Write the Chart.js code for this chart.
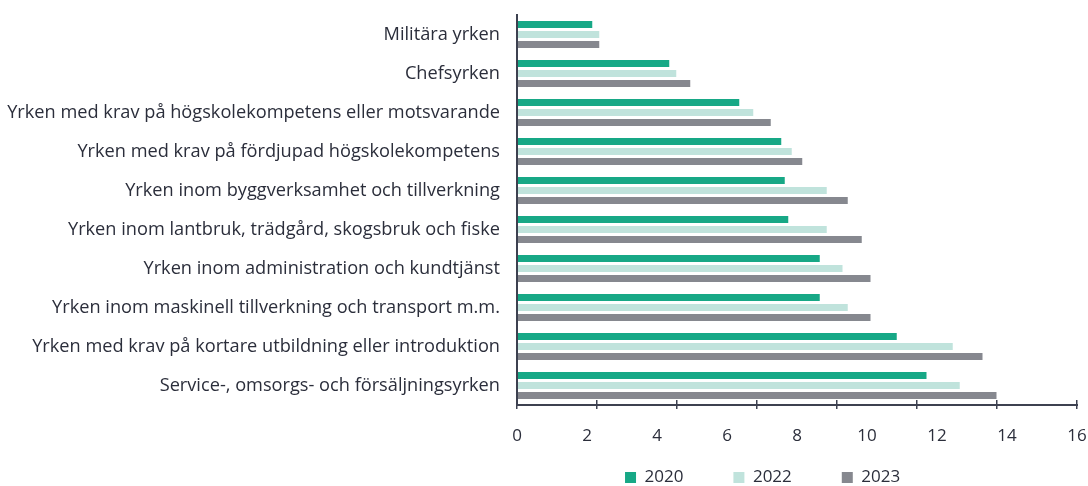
<!DOCTYPE html>
<html>
<head>
<meta charset="utf-8">
<script src="https://cdn.jsdelivr.net/npm/chart.js@4/dist/chart.umd.min.js"></script>
<style>
  html, body { margin: 0; padding: 0; background: #ffffff; }
  #wrap { width: 1088px; height: 486px; position: relative; }
</style>
</head>
<body>
<div id="wrap"><canvas id="c"></canvas></div>
<script>
const categories = [
  "Militära yrken",
  "Chefsyrken",
  "Yrken med krav på högskolekompetens eller motsvarande",
  "Yrken med krav på fördjupad högskolekompetens",
  "Yrken inom byggverksamhet och tillverkning",
  "Yrken inom lantbruk, trädgård, skogsbruk och fiske",
  "Yrken inom administration och kundtjänst",
  "Yrken inom maskinell tillverkning och transport m.m.",
  "Yrken med krav på kortare utbildning eller introduktion",
  "Service-, omsorgs- och försäljningsyrken"
];
const seriesNames = ["2020", "2022", "2023"];
const values2020 = [2.15, 4.35, 6.35, 7.55, 7.65, 7.75, 8.65, 8.65, 10.85, 11.7];
const values2022 = [2.35, 4.55, 6.75, 7.85, 8.85, 8.85, 9.3, 9.45, 12.45, 12.65];
const values2023 = [2.35, 4.95, 7.25, 8.15, 9.45, 9.85, 10.1, 10.1, 13.3, 13.7];
const xTickLabels = [0, 2, 4, 6, 8, 10, 12, 14, 16];
const xTickMarks = [0, 2, 4, 6, 8, 10, 12, 14];

const colors = ["#17a886", "#c0e3dc", "#86888f"];
const axisColor = "#3d4150";
const textColor = "#2b2e3b";
const FONT = "'Open Sans', sans-serif";

const noPad = (s) => { s.paddingLeft = 0; s.paddingRight = 0; s.paddingTop = 0; s.paddingBottom = 0; };

const chart = new Chart(document.getElementById('c'), {
  type: 'bar',
  data: {
    labels: categories,
    datasets: [
      { label: seriesNames[0], data: values2020, backgroundColor: colors[0], xAxisID: 'x', yAxisID: 'y' },
      { label: seriesNames[1], data: values2022, backgroundColor: colors[1], xAxisID: 'x', yAxisID: 'y' },
      { label: seriesNames[2], data: values2023, backgroundColor: colors[2], xAxisID: 'x', yAxisID: 'y' }
    ]
  },
  options: {
    indexAxis: 'y',
    responsive: true,
    maintainAspectRatio: false,
    animation: false,
    datasets: { bar: { categoryPercentage: 0.77, barPercentage: 0.7, borderWidth: 0 } },
    layout: { padding: { top: 15, left: 448.2, right: 11, bottom: -10 } },
    plugins: {
      tooltip: { enabled: false },
      legend: {
        position: 'bottom',
        align: 'center',
        title: { display: true, text: '', font: { size: 10 }, padding: { top: 2, bottom: 0 } },
        labels: {
          boxWidth: 11, boxHeight: 11, padding: 50,
          color: textColor,
          font: { family: FONT, size: 17 }
        }
      }
    },
    scales: {
      y: {
        type: 'category',
        position: { x: 0 },
        afterFit: noPad,
        grid: { display: false, drawTicks: false, tickLength: 0 },
        border: { display: true, color: axisColor, width: 2, z: 1 },
        ticks: { display: false }
      },
      yLabels: {
        type: 'category', axis: 'y',
        position: { x: -0.486 },
        offset: true,
        afterFit: noPad,
        grid: { display: false, drawTicks: false, tickLength: 0 },
        border: { display: false },
        ticks: { padding: 0, color: textColor, font: { family: FONT, size: 18.2 }, autoSkip: false }
      },
      x: {
        type: 'linear',
        position: { y: 9.5 },
        min: 0, max: 16,
        afterBuildTicks: (s) => { s.ticks = xTickLabels.map(v => ({ value: v })); },
        afterFit: noPad,
        grid: { display: false, drawTicks: false, tickLength: 0 },
        border: { display: true, color: axisColor, width: 2, z: 1 },
        ticks: { padding: 21, color: textColor, font: { family: FONT, size: 17 } }
      },
      xMarks: {
        type: 'linear', axis: 'x', position: { y: 9.372 },
        min: 0, max: 14,
        afterBuildTicks: (s) => { s.ticks = xTickMarks.map(v => ({ value: v })); },
        afterFit: noPad,
        grid: { display: true, drawOnChartArea: false, drawTicks: true, tickLength: 9, color: axisColor, lineWidth: 1.5, z: 1 },
        border: { display: false },
        ticks: { display: false }
      },
      ySpace: {
        type: 'linear', axis: 'y', position: 'left',
        afterFit: (s) => { noPad(s); s.width = 68.8; },
        grid: { display: false },
        border: { display: false },
        ticks: { display: false }
      }
    }
  }
});
</script>
</body>
</html>
